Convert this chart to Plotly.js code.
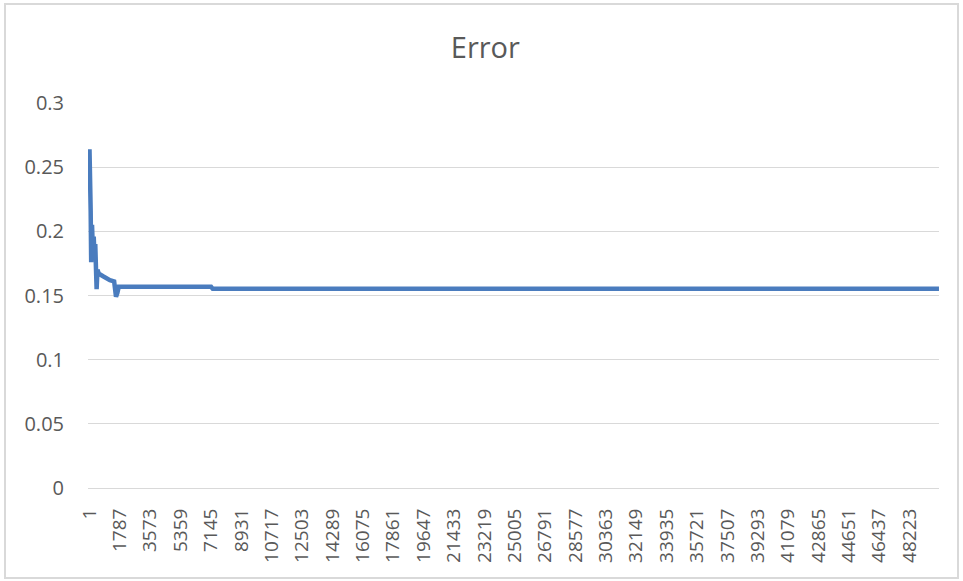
<!DOCTYPE html>
<html>
<head>
<meta charset="utf-8">
<script src="https://cdn.plot.ly/plotly-3.0.1.min.js"></script>
<style>
  html, body { margin: 0; padding: 0; background: #fff; }
  #frame { position: absolute; left: 4px; top: 3px; width: 951px; height: 572px; border: 2px solid #d9d9d9; }
  #chart { position: absolute; left: 0; top: 0; width: 963px; height: 581px; }
</style>
</head>
<body>
<div id="frame"></div>
<div id="chart"></div>
<script>
// Iteration index (category) and error value
const iterations = [1, 40, 70, 100, 150, 200, 250, 300, 340, 380, 420, 470, 550, 800, 1000, 1200, 1450, 1500, 1560, 1640, 1720, 7150, 7250, 49950];
const errorValues = [0.264, 0.248, 0.216, 0.176, 0.205, 0.185, 0.196, 0.178, 0.19, 0.172, 0.155, 0.17, 0.167, 0.165, 0.163, 0.162, 0.161, 0.152, 0.149, 0.152, 0.1568, 0.1568, 0.1552, 0.1552];

// X tick labels (every 1786 categories)
const xTickLabels = ["1","1787","3573","5359","7145","8931","10717","12503","14289","16075","17861","19647","21433","23219","25005","26791","28577","30363","32149","33935","35721","37507","39293","41079","42865","44651","46437","48223"];
const xTickVals = xTickLabels.map(Number);

const yTickVals = [0, 0.05, 0.1, 0.15, 0.2, 0.25, 0.3];
const yTickText = ["0", "0.05", "0.1", "0.15", "0.2", "0.25", "0.3"];

const font = "Open Sans, Liberation Sans, sans-serif";
const grey = "#595959";

Plotly.newPlot("chart", [{
  x: iterations,
  y: errorValues,
  type: "scatter",
  mode: "lines",
  line: { color: "#4a7cbe", width: 4.5 },
  hoverinfo: "x+y",
  showlegend: false
}], {
  width: 963, height: 581,
  margin: { l: 88, r: 24, t: 103, b: 93 },
  paper_bgcolor: "rgba(0,0,0,0)",
  plot_bgcolor: "rgba(0,0,0,0)",
  title: { text: "Error", font: { family: font, size: 29, color: grey }, x: 0.504, xanchor: "center", y: 0.917, yanchor: "middle" },
  xaxis: {
    range: [-87, 49952],
    tickmode: "array", tickvals: xTickVals, ticktext: xTickLabels,
    tickangle: -90,
    tickfont: { family: font, size: 19, color: grey },
    ticks: "outside", ticklen: 12, tickcolor: "rgba(0,0,0,0)",
    showgrid: false, zeroline: false,
    showline: true, linecolor: "#d9d9d9", linewidth: 1
  },
  yaxis: {
    range: [0, 0.3],
    tickmode: "array", tickvals: yTickVals, ticktext: yTickText,
    tickfont: { family: font, size: 20, color: grey },
    ticks: "outside", ticklen: 19, tickcolor: "rgba(0,0,0,0)",
    showgrid: true, gridcolor: "#d9d9d9", gridwidth: 1,
    zeroline: false, showline: false
  }
}, { displayModeBar: false, staticPlot: true });
</script>
</body>
</html>
